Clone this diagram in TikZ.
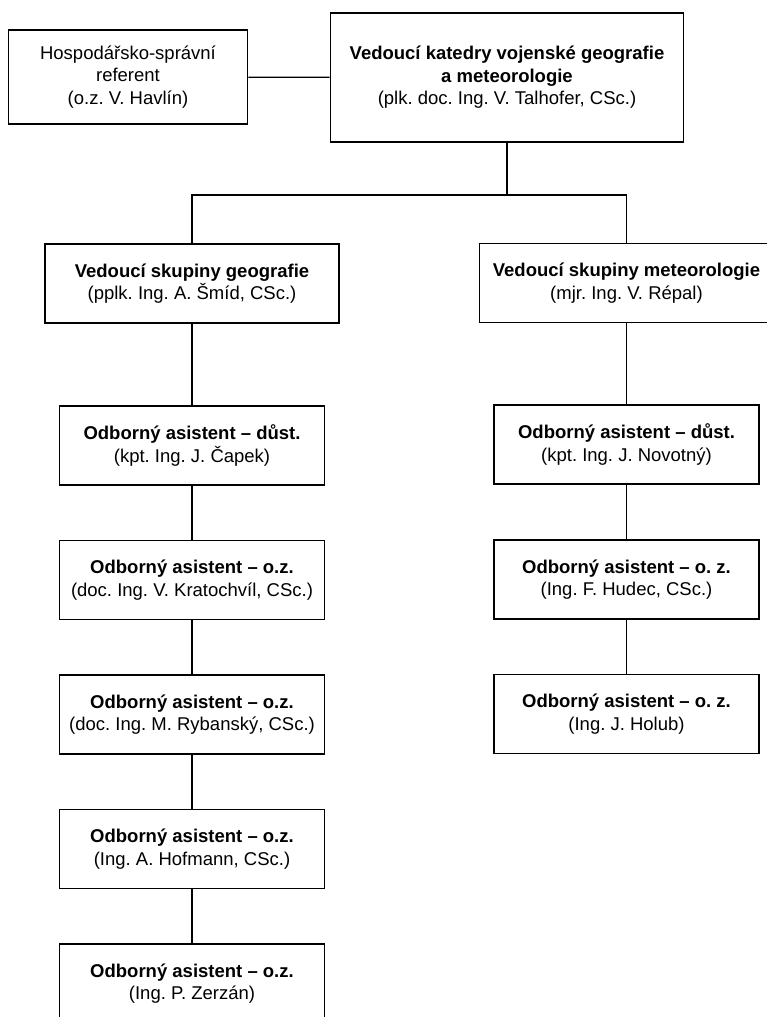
\documentclass[tikz,border=0pt]{standalone}
\usepackage{fontspec}
\setmainfont{Liberation Sans}
\usetikzlibrary{positioning}
\frenchspacing

\begin{document}
\begin{tikzpicture}[x=1pt, y=-1pt,
  box/.style={draw, line width=1.6pt, align=center, inner sep=2pt, font=\fontsize{18.5}{22.5}\selectfont},
  grp/.style={box, minimum width=294pt, minimum height=79pt},
  asst/.style={box, minimum width=265pt, minimum height=79pt},
  link/.style={line width=1.3pt},
]
  \useasboundingbox (0,0) rectangle (767,1017);

  % vedeni katedry
  \node[box, minimum width=239pt, minimum height=94pt] (ref) at (128,77) {Hospodářsko-správní\\referent\\(o.z. V. Havlín)};
  \node[box, minimum width=353pt, minimum height=129pt] (head) at (507,77.5) {\textbf{Vedoucí katedry vojenské geografie}\\\textbf{a meteorologie}\\(plk. doc. Ing. V. Talhofer, CSc.)};

  % skupiny
  \node[grp] (geo) at (192,283.5) {\textbf{Vedoucí skupiny geografie}\\(pplk. Ing. A. Šmíd, CSc.)};
  \node[grp] (met) at (626.5,283) {\textbf{Vedoucí skupiny meteorologie}\\(mjr. Ing. V. Répal)};
  \coordinate (split) at (507,195);

  % geografie
  \node[asst] (g1) at (192,445.5) {\textbf{Odborný asistent – důst.}\\(kpt. Ing. J. Čapek)};
  \node[asst] (g2) at (192,580) {\textbf{Odborný asistent – o.z.}\\(doc. Ing. V. Kratochvíl, CSc.)};
  \node[asst] (g3) at (192,714.5) {\textbf{Odborný asistent – o.z.}\\(doc. Ing. M. Rybanský, CSc.)};
  \node[asst] (g4) at (192,849) {\textbf{Odborný asistent – o.z.}\\(Ing. A. Hofmann, CSc.)};
  \node[asst] (g5) at (192,983.5) {\textbf{Odborný asistent – o.z.}\\(Ing. P. Zerzán)};

  % meteorologie
  \node[asst] (m1) at (626.5,444.5) {\textbf{Odborný asistent – důst.}\\(kpt. Ing. J. Novotný)};
  \node[asst] (m2) at (626.5,579.5) {\textbf{Odborný asistent – o. z.}\\(Ing. F. Hudec, CSc.)};
  \node[asst] (m3) at (626.5,714) {\textbf{Odborný asistent – o. z.}\\(Ing. J. Holub)};

  \draw[link] (ref) -- (head);
  \draw[link] (head) -- (split);
  \draw[link] (geo.north) -- (geo.north |- split) -- (met.north |- split) -- (met.north);
  \draw[link] (geo) -- (g1) -- (g2) -- (g3) -- (g4) -- (g5);
  \draw[link] (met) -- (m1) -- (m2) -- (m3);
\end{tikzpicture}
\end{document}
